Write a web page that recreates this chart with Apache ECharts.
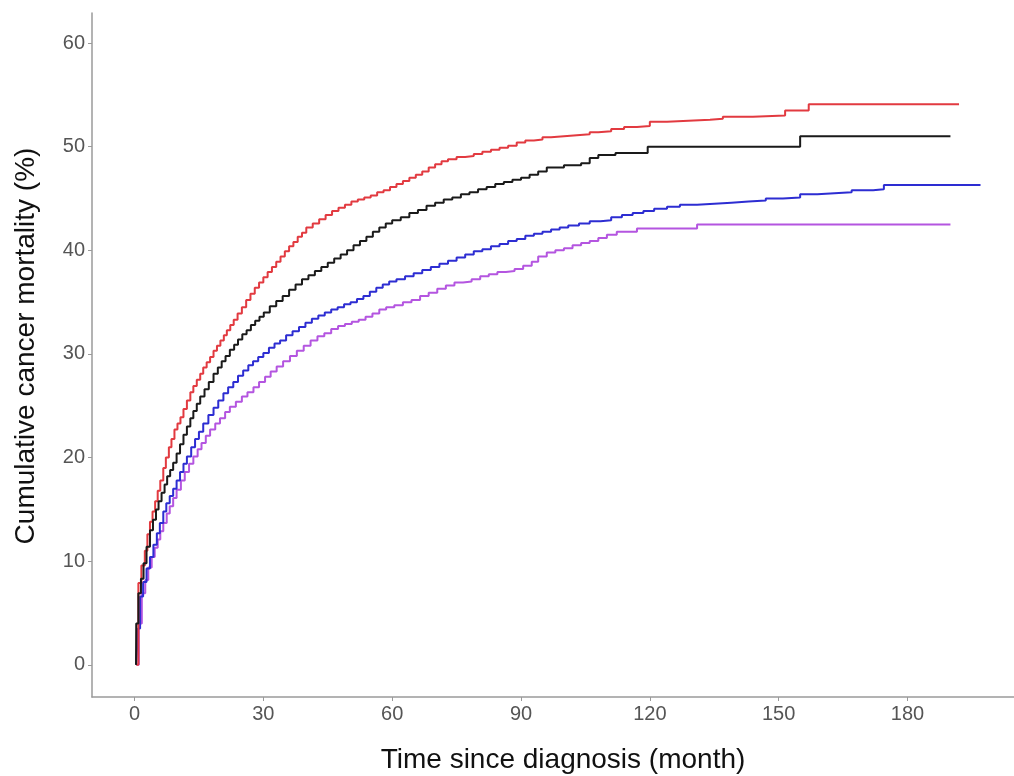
<!DOCTYPE html>
<html>
	<head>
		<meta charset="UTF-8">
		<title>Cumulative cancer mortality</title>
	</head>
	<style>
		*{margin:0;padding:0;}
		html,body{height:100%;background:#fff;}
		.chart{width:1014px;height:776px;}
	</style>
	<body>
		<div id='chart' class='chart'></div>
	</body>
	<script src="https://cdn.jsdelivr.net/npm/echarts@6.0.0/dist/echarts.min.js"></script>
	<script>
		// tick labels
		var xTicks=[0,30,60,90,120,150,180];
		var yTicks=[0,10,20,30,40,50,60];

		// red curve (month, %)
		var redT=[0.4,0.9,1.6,2.4,3.0,3.6,4.2,4.8,5.4,6.0,6.7,7.3,8.0,8.6,9.3,10.0,10.7,11.4,12.2,13.0,13.7,14.5,15.3,16.0,16.8,17.6,18.4,19.2,20.0,20.8,21.5,22.3,23.1,24.0,25.0,26.0,27.0,28.0,29.0,30.0,31.0,32.0,33.0,34.0,35.0,36.0,37.0,38.0,39.0,40.0,41.5,43.0,44.5,46.0,47.5,49.0,50.5,52.0,53.5,55.0,56.5,58.0,59.5,61.0,62.5,64.0,65.5,67.0,68.5,70.0,71.5,73.0,75.0,77.0,79.0,81.0,83.0,85.0,87.0,89.0,91.0,93.0,95.0,97.0,100.0,103.0,106.0,108.0,111.0,114.0,117.0,120.0,124.0,129.0,134.0,137.0,144.0,151.5,157.0,192.0];
		var redY=[0,7.9,9.6,11.0,12.6,13.8,14.8,15.8,16.8,17.8,19.0,20.0,21.0,21.8,22.7,23.3,23.9,24.7,25.5,26.3,26.9,27.5,28.1,28.7,29.2,29.7,30.3,30.8,31.3,31.8,32.3,32.8,33.3,33.9,34.5,35.2,35.8,36.4,36.9,37.4,37.9,38.4,38.9,39.4,39.9,40.4,40.8,41.3,41.7,42.2,42.6,43.0,43.4,43.8,44.1,44.4,44.7,44.9,45.1,45.3,45.6,45.8,46.1,46.4,46.7,47.0,47.3,47.6,48.0,48.3,48.6,48.8,49.0,49.1,49.3,49.5,49.7,49.9,50.1,50.4,50.6,50.7,50.9,51.0,51.1,51.2,51.4,51.5,51.7,51.9,52.0,52.4,52.5,52.6,52.7,52.9,53.0,53.5,54.1,54.1];

		// black curve
		var blackT=[0.35,0.4,0.9,1.5,2.1,2.8,3.6,4.3,5.0,5.6,6.3,7.0,7.6,8.3,9.0,9.8,10.6,11.4,12.2,13.0,13.7,14.5,15.3,16.3,17.3,18.4,19.4,20.3,21.2,22.2,23.2,24.1,25.1,26.1,27.1,28.1,29.1,30.1,31.5,33.0,34.5,36.0,37.5,39.0,40.5,42.0,43.5,45.0,46.5,48.0,49.5,51.0,52.5,54.0,55.5,57.0,58.5,60.0,62.0,64.0,66.0,68.0,70.0,72.0,74.0,76.0,78.0,80.0,82.0,84.0,86.0,88.0,90.0,92.0,94.0,96.0,100.0,104.0,106.0,108.0,112.0,119.5,155.0,190.0];
		var blackY=[0,4.0,6.9,8.3,9.8,11.4,13.0,14.0,15.0,15.8,16.6,17.4,18.2,18.8,19.5,20.4,21.3,22.2,23.0,23.8,24.5,25.2,25.9,26.6,27.3,28.1,28.7,29.3,29.8,30.4,30.9,31.4,31.9,32.3,32.8,33.2,33.6,34.0,34.6,35.1,35.6,36.2,36.7,37.2,37.6,38.0,38.4,38.8,39.2,39.6,40.0,40.5,40.9,41.3,41.8,42.2,42.6,42.9,43.2,43.6,43.9,44.3,44.6,44.9,45.1,45.4,45.6,45.9,46.1,46.4,46.6,46.8,47.0,47.3,47.6,48.0,48.2,48.4,48.9,49.2,49.4,50.0,51.0,51.0];

		// blue curve
		var blueT=[0.4,0.8,1.3,2.0,2.8,3.6,4.4,5.2,5.9,6.7,7.4,8.2,9.0,9.8,10.6,11.4,12.2,13.2,14.1,15.0,16.0,17.2,18.4,19.5,20.7,21.8,23.0,24.1,25.3,26.5,27.6,28.8,30.0,31.3,32.6,33.9,35.3,36.8,38.3,39.8,41.3,42.8,44.3,45.8,47.3,48.8,50.3,51.8,53.3,54.8,56.3,57.8,59.3,61.0,63.0,65.0,67.0,69.0,71.0,73.0,75.0,77.0,79.0,81.0,83.0,85.0,87.0,89.0,91.0,93.0,95.0,97.0,99.0,101.0,103.5,106.0,108.5,111.0,113.5,116.0,118.5,121.0,124.0,127.0,131.0,135.0,139.0,143.0,147.0,151.0,155.0,159.0,163.0,167.0,172.0,174.5,197.0];
		var blueY=[0,3.5,6.6,8.0,9.3,10.4,11.6,12.7,13.7,14.8,15.6,16.3,17.0,17.8,18.6,19.4,20.1,21.0,21.8,22.5,23.3,24.1,24.8,25.5,26.2,26.8,27.3,27.9,28.4,28.9,29.3,29.7,30.1,30.6,31.0,31.3,31.8,32.2,32.6,33.0,33.4,33.7,34.0,34.3,34.5,34.8,35.0,35.3,35.6,36.0,36.4,36.7,37.0,37.2,37.5,37.8,38.1,38.4,38.7,39.0,39.3,39.6,39.9,40.1,40.4,40.6,40.9,41.1,41.4,41.6,41.8,42.0,42.2,42.4,42.6,42.8,42.9,43.2,43.4,43.6,43.8,44.0,44.2,44.4,44.5,44.6,44.7,44.8,45.0,45.1,45.4,45.5,45.6,45.8,45.9,46.3,46.3];

		// purple curve
		var purpleT=[0.5,1.0,1.7,2.5,3.2,4.0,4.7,5.4,6.0,6.7,7.5,8.2,9.0,9.8,10.8,11.7,12.7,13.7,14.7,15.6,16.6,17.6,18.8,19.9,21.1,22.2,23.6,25.0,26.3,27.7,29.0,30.4,31.7,33.1,34.6,36.2,37.8,39.4,41.0,42.6,44.2,45.8,47.4,49.0,50.6,52.2,53.8,55.4,57.0,58.6,60.5,62.5,64.5,66.5,68.5,70.5,72.5,74.5,76.5,78.5,80.5,82.5,84.5,86.5,88.5,90.5,92.5,94.0,96.0,98.0,100.0,102.0,104.0,106.0,108.0,110.0,112.3,117.0,131.0,190.0];
		var purpleY=[0,4.0,6.9,8.2,9.4,10.4,11.3,12.1,12.9,13.7,14.6,15.3,16.1,16.9,17.8,18.6,19.4,20.1,20.8,21.4,22.1,22.7,23.3,23.8,24.4,24.9,25.4,25.9,26.3,26.8,27.3,27.8,28.3,28.8,29.3,29.8,30.3,30.8,31.3,31.7,32.0,32.4,32.7,32.9,33.1,33.3,33.6,33.9,34.3,34.5,34.7,35.0,35.2,35.6,35.9,36.3,36.6,36.9,37.0,37.2,37.5,37.7,37.9,38.0,38.2,38.5,38.9,39.4,39.8,40.0,40.2,40.5,40.7,40.9,41.2,41.5,41.8,42.1,42.5,42.5];

		function pairs(t,y){
			var out=[];
			for(var i=0;i<t.length;i++){out.push([t[i],y[i]]);}
			return out;
		}
		function stepLine(name,color,t,y){
			return {
				name:name,type:'line',step:'end',symbol:'none',
				lineStyle:{color:color,width:2},
				itemStyle:{color:color},
				data:pairs(t,y)
			};
		}

		var axisGrey='#9a9a9a';
		var font='Liberation Sans, Arial, sans-serif';
		var labelFont={color:'#555',fontSize:20,fontFamily:font};

		var chart=echarts.init(document.getElementById('chart'));
		chart.setOption({
			animation:false,
			grid:{left:92,right:0,top:13,bottom:79,outerBoundsMode:'none'},
			xAxis:{
				type:'value',min:-9.9,max:204.8,
				name:'Time since diagnosis (month)',nameLocation:'middle',nameGap:49,
				nameTextStyle:{color:'#111',fontSize:28,fontFamily:font,padding:[0,0,0,20]},
				axisLine:{show:true,onZero:false,lineStyle:{color:axisGrey,width:1.5}},
				axisTick:{show:true,length:4,lineStyle:{color:axisGrey},customValues:xTicks},
				axisLabel:Object.assign({customValues:xTicks,margin:7},labelFont),
				splitLine:{show:false}
			},
			yAxis:{
				type:'value',min:-3.1,max:62.9,
				name:'Cumulative cancer mortality (%)',nameLocation:'middle',nameGap:52,
				nameTextStyle:{color:'#111',fontSize:28,fontFamily:font,padding:[0,0,0,18]},
				axisLine:{show:true,onZero:false,lineStyle:{color:axisGrey,width:1.5}},
				axisTick:{show:true,length:4,lineStyle:{color:axisGrey},customValues:yTicks},
				axisLabel:Object.assign({customValues:yTicks,margin:7},labelFont),
				splitLine:{show:false}
			},
			series:[
				stepLine('purple','#b455e0',purpleT,purpleY),
				stepLine('blue','#2d2dd2',blueT,blueY),
				stepLine('red','#e23a40',redT,redY),
				stepLine('black','#1a1a1a',blackT,blackY)
			]
		});
	</script>
</html>
